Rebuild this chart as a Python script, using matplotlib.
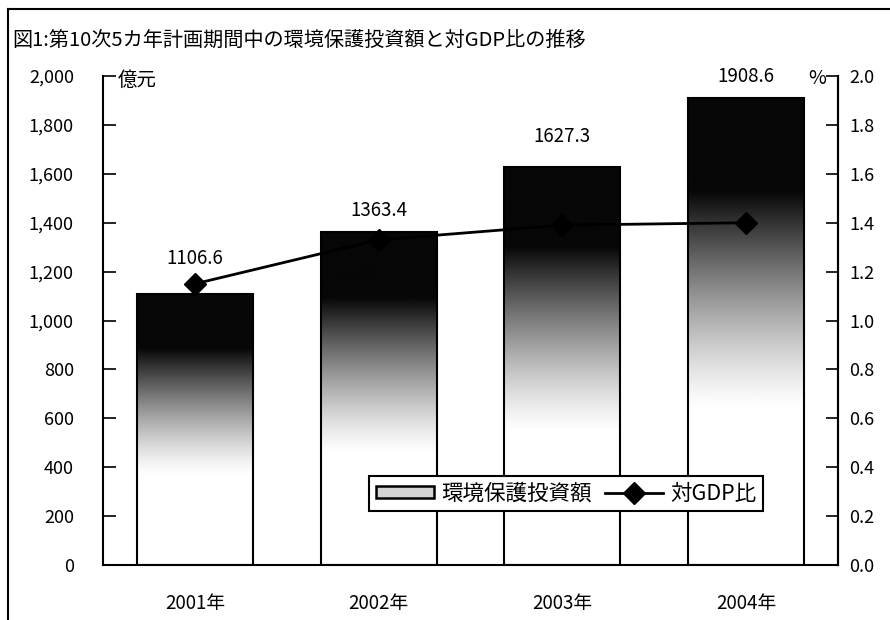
import matplotlib
matplotlib.use('Agg')
import matplotlib.pyplot as plt
import numpy as np
from matplotlib.lines import Line2D
from matplotlib.patches import Patch
from matplotlib.ticker import FuncFormatter

plt.rcParams['font.family'] = ['Noto Sans CJK JP', 'DejaVu Sans']

TITLE = '図1:第10次5カ年計画期間中の環境保護投資額と対GDP比の推移'
YEARS = ['2001年', '2002年', '2003年', '2004年']
INVEST = [1106.6, 1363.4, 1627.3, 1908.6]   # 億元
GDP_RATIO = [1.15, 1.33, 1.39, 1.40]        # %
LABEL_OFFSETS = [26, 15, 22, 16]            # points above bar top
BAR_NAME = '環境保護投資額'
LINE_NAME = '対GDP比'


def gradient_bar(ax, x, h, w):
    # black at the top fading to white toward the bottom, clipped to the bar
    bar = ax.bar(x, h, width=w, facecolor='none', edgecolor='black',
                 linewidth=1.5, zorder=3)[0]
    t = np.linspace(0, 1, 400).reshape(-1, 1)
    dark = np.clip((t - 0.33) / 0.47, 0, 1) ** 1.3
    img = ax.imshow(1 - 0.97 * dark, cmap='gray', vmin=0, vmax=1,
                    origin='lower', extent=(x - w / 2, x + w / 2, 0, h),
                    aspect='auto', interpolation='bilinear', zorder=2)
    img.set_clip_path(bar)
    return bar


def main():
    fig = plt.figure(figsize=(8.9, 6.2), dpi=100)
    ax = fig.add_axes([103 / 890, 55 / 620, 735 / 890, 489 / 620])
    ax2 = ax.twinx()

    xs = np.arange(len(YEARS))
    w = 0.63
    for x, v, off in zip(xs, INVEST, LABEL_OFFSETS):
        gradient_bar(ax, x, v, w)
        ax.annotate('%.1f' % v, (x, v), xytext=(0, off),
                    textcoords='offset points', ha='center', va='center',
                    fontsize=13.5)

    ax.set_xlim(-0.5, len(YEARS) - 0.5)
    ax.set_ylim(0, 2000)
    ax.set_yticks(np.arange(0, 2001, 200))
    ax.yaxis.set_major_formatter(FuncFormatter(lambda v, p: '{:,.0f}'.format(v)))
    ax.set_xticks(xs)
    ax.set_xticklabels(YEARS)
    ax.tick_params(axis='x', length=0, labelsize=13.5, pad=20)
    ax.tick_params(axis='y', direction='in', length=9, width=1.2,
                   labelsize=13, pad=21)

    ax2.plot(xs, GDP_RATIO, color='black', linewidth=2.0, marker='D',
             markersize=11, zorder=5)
    ax2.set_ylim(0, 2.0)
    ax2.set_yticks(np.arange(0, 2.01, 0.2))
    ax2.yaxis.set_major_formatter(FuncFormatter(lambda v, p: '%.1f' % v))
    ax2.tick_params(axis='y', direction='in', length=9, width=1.2,
                    labelsize=13, pad=8)

    for a in (ax, ax2):
        a.spines['top'].set_visible(False)
        for s in a.spines.values():
            s.set_linewidth(1.5)
    ax2.spines['left'].set_visible(False)
    ax2.spines['bottom'].set_visible(False)

    handles = [Patch(facecolor='#d4d4d4', edgecolor='black', linewidth=1.8),
               Line2D([], [], color='black', linewidth=2.0, marker='D',
                      markersize=11)]
    leg = ax2.legend(handles, [BAR_NAME, LINE_NAME], loc='center',
                     bbox_to_anchor=(0.63, 0.146), ncol=2, fontsize=15.5,
                     frameon=True, fancybox=False, framealpha=1,
                     edgecolor='black', handlelength=2.7, handleheight=0.5,
                     handletextpad=0.35, columnspacing=0.6, borderpad=0.3)
    leg.get_frame().set_linewidth(1.5)

    fig.text(118 / 890, 1 - 80 / 620, '億元', fontsize=14, va='center')
    fig.text(808 / 890, 1 - 78 / 620, '%', fontsize=14, va='center')
    fig.text(12 / 890, 1 - 40 / 620, TITLE, fontsize=14.5, va='center')

    # outer frame (top and left edges)
    fig.add_artist(Line2D([8 / 890, 1], [1 - 9 / 620, 1 - 9 / 620],
                          color='black', linewidth=1.5))
    fig.add_artist(Line2D([8 / 890, 8 / 890], [0, 1 - 9 / 620],
                          color='black', linewidth=1.5))

    fig.savefig('out.png', dpi=100)


if __name__ == '__main__':
    main()
